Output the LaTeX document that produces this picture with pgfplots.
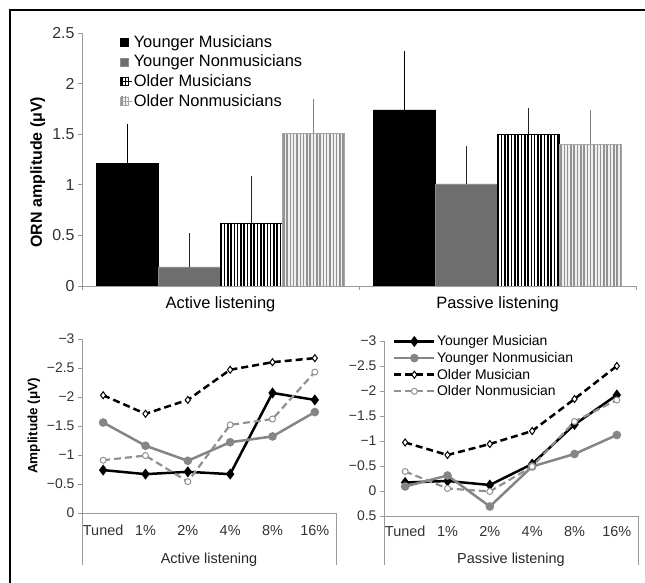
\documentclass[border=0pt]{standalone}
\usepackage{pgfplots}
\pgfplotsset{compat=1.18}
\usepackage{fontspec}
\setmainfont{Liberation Sans}
\usetikzlibrary{patterns.meta}
\definecolor{barg}{HTML}{6E6E6E}
\definecolor{lineg}{HTML}{858585}
\definecolor{axg}{HTML}{9A9A9A}
\pgfplotsset{
  sqlegend/.style={legend image code/.code={\draw[##1] (0bp,-4bp) rectangle (8bp,4bp); \path[draw=none, fill=none, pattern=none] (0bp,0bp) -- (12bp,0bp);}},
  lnlegend/.style={legend image code/.code={\draw[mark repeat=2, mark phase=2, ##1] plot coordinates {(0bp,0bp) (20bp,0bp) (40bp,0bp)};}},
}
\begin{document}
\begin{tikzpicture}
\path[use as bounding box] (0,0) rectangle (645bp,583bp);
\draw[line width=2bp] (10bp,0bp) -- (10bp,573bp) -- (645bp,573bp);
% ---------------- top bar chart ----------------
\begin{axis}[
  at={(359bp,423.5bp)}, anchor=center, scale only axis,
  width=554bp, height=253bp,
  xmin=0, xmax=2, ymin=0, ymax=2.5,
  axis x line*=bottom, axis y line*=left,
  axis line style={draw=axg, line width=0.9bp},
  tick style={draw=axg, line width=0.8bp},
  tick align=outside, major tick length=4bp,
  xtick={0,1,2}, xticklabels={,,},
  extra x ticks={0.5,1.5},
  extra x tick labels={Active listening,Passive listening},
  extra x tick style={major tick length=0pt, ticklabel style={font=\fontsize{16.5}{19}\selectfont, yshift=-7bp}},
  ytick={0,0.5,1,1.5,2,2.5},
  yticklabel style={font=\fontsize{16}{18}\selectfont, text=black!80},
  /pgf/number format/assume math mode=true,
  ylabel={ORN amplitude (μV)},
  ylabel style={font=\bfseries\fontsize{16}{18}\selectfont, at={(axis description cs:-0.08,0.45)}, anchor=center},
  ybar=0pt, bar width=62bp,
  legend style={at={(axis description cs:0.068,0.997)}, anchor=north west, draw=none, fill=none,
    font=\fontsize{16.5}{18}\selectfont, row sep=3.2bp, inner sep=0pt,
    nodes={inner sep=1.5bp}},
  legend cell align=left,
]
\addplot[fill=black, draw=black, sqlegend,
  error bars/.cd, y dir=plus, y explicit,
  error bar style={black, line width=0.8bp},
  error mark options={black, mark size=3.5bp, line width=0.8bp}]
  coordinates {(0.5,1.21) +- (0,0.36) (1.5,1.74) +- (0,0.55)};
\addlegendentry{Younger Musicians}
\addplot[fill=barg, draw=barg!80, sqlegend,
  error bars/.cd, y dir=plus, y explicit,
  error bar style={black!85, line width=0.8bp},
  error mark options={black!85, mark size=3.5bp, line width=0.8bp}]
  coordinates {(0.5,0.19) +- (0,0.30) (1.5,1.01) +- (0,0.34)};
\addlegendentry{Younger Nonmusicians}
\addplot[draw=black, preaction={fill=white},
  pattern={Lines[angle=90, distance=3.3bp, line width=1.6bp]}, pattern color=black, sqlegend,
  error bars/.cd, y dir=plus, y explicit,
  error bar style={black!85, line width=0.8bp},
  error mark options={black!85, mark size=3.5bp, line width=0.8bp}]
  coordinates {(0.5,0.62) +- (0,0.43) (1.5,1.50) +- (0,0.22)};
\addlegendentry{Older Musicians}
\addplot[draw=gray!70, preaction={fill=gray!12},
  pattern={Lines[angle=90, distance=3.3bp, line width=1.5bp]}, pattern color=gray!85, sqlegend,
  error bars/.cd, y dir=plus, y explicit,
  error bar style={gray, line width=0.8bp},
  error mark options={gray, mark size=3.5bp, line width=0.8bp}]
  coordinates {(0.5,1.51) +- (0,0.30) (1.5,1.40) +- (0,0.30)};
\addlegendentry{Older Nonmusicians}
\end{axis}
% ---------------- bottom left: active ----------------
\begin{axis}[
  at={(209bp,157bp)}, anchor=center, scale only axis,
  width=254bp, height=174bp,
  xmin=-0.5, xmax=5.5, ymin=0, ymax=3,
  y filter/.expression={-y},
  axis x line*=bottom, axis y line*=left,
  axis line style={draw=axg, line width=0.9bp},
  tick align=outside, major tick length=4bp,
  ytick={0,0.5,1,1.5,2,2.5,3},
  yticklabels={0,−0.5,−1,−1.5,−2,−2.5,−3},
  ytick style={draw=axg, line width=0.8bp},
  yticklabel style={font=\fontsize{14}{16}\selectfont, text=black!80},
  xtick={0,1,2,3,4,5},
  xticklabels={Tuned,1\%,2\%,4\%,8\%,16\%},
  xtick style={draw=none},
  xticklabel style={font=\fontsize{14.5}{16}\selectfont, text=black!80, yshift=-5bp},
  extra x ticks={-0.5,5.5}, extra x tick labels={,},
  extra x tick style={xtick style={draw=axg, line width=0.8bp}, major tick length=52bp},
  xlabel={Active listening},
  xlabel style={font=\fontsize{14.5}{16}\selectfont, text=black!85, at={(axis description cs:0.5,-0.268)}, anchor=center},
  ylabel={Amplitude (μV)},
  ylabel style={font=\bfseries\fontsize{13.5}{15}\selectfont},
]
\addplot[black, line width=2.5bp, mark=diamond*, mark size=3.5bp]
  coordinates {(0,-0.74) (1,-0.67) (2,-0.71) (3,-0.67) (4,-2.07) (5,-1.95)};
\addplot[lineg, line width=2.5bp, mark=*, mark size=3bp]
  coordinates {(0,-1.56) (1,-1.16) (2,-0.90) (3,-1.22) (4,-1.32) (5,-1.74)};
\addplot[black, line width=2.5bp, dash pattern=on 7bp off 4bp, mark=diamond*, mark size=3.5bp, mark options={solid, fill=white, line width=1bp}]
  coordinates {(0,-2.03) (1,-1.71) (2,-1.95) (3,-2.47) (4,-2.60) (5,-2.67)};
\addplot[lineg!90, line width=2.2bp, dash pattern=on 7bp off 4bp, mark=*, mark size=3bp, mark options={solid, fill=white, line width=1bp}]
  coordinates {(0,-0.91) (1,-0.99) (2,-0.54) (3,-1.52) (4,-1.62) (5,-2.43)};
\end{axis}
% ---------------- bottom right: passive ----------------
\begin{axis}[
  at={(511bp,154.5bp)}, anchor=center, scale only axis,
  width=254bp, height=175bp,
  xmin=-0.5, xmax=5.5, ymin=-0.5, ymax=3,
  y filter/.expression={-y},
  axis x line*=bottom, axis y line*=left,
  axis line style={draw=axg, line width=0.9bp},
  tick align=outside, major tick length=4bp,
  ytick={-0.5,0,0.5,1,1.5,2,2.5,3},
  yticklabels={0.5,0,−0.5,−1,−1.5,−2,−2.5,−3},
  ytick style={draw=axg, line width=0.8bp},
  yticklabel style={font=\fontsize{14}{16}\selectfont, text=black!80},
  xtick={0,1,2,3,4,5},
  xticklabels={Tuned,1\%,2\%,4\%,8\%,16\%},
  xtick style={draw=none},
  xticklabel style={font=\fontsize{14.5}{16}\selectfont, text=black!80, yshift=-3bp},
  extra x ticks={-0.5,5.5}, extra x tick labels={,},
  extra x tick style={xtick style={draw=axg, line width=0.8bp}, major tick length=49bp},
  xlabel={Passive listening},
  xlabel style={font=\fontsize{14.5}{16}\selectfont, text=black!85, at={(axis description cs:0.5,-0.25)}, anchor=center},
  legend style={at={(axis description cs:0.035,1.04)}, anchor=north west, draw=none, fill=none,
    font=\fontsize{14}{15}\selectfont, row sep=2bp, inner sep=0pt, nodes={inner sep=1.5bp}},
  legend cell align=left,
]
\addplot[black, line width=2.5bp, mark=diamond*, mark size=3.5bp, lnlegend]
  coordinates {(0,-0.17) (1,-0.20) (2,-0.12) (3,-0.54) (4,-1.33) (5,-1.92)};
\addlegendentry{Younger Musician}
\addplot[lineg, line width=2.5bp, mark=*, mark size=3bp, lnlegend]
  coordinates {(0,-0.09) (1,-0.31) (2,0.31) (3,-0.49) (4,-0.74) (5,-1.12)};
\addlegendentry{Younger Nonmusician}
\addplot[black, line width=2.5bp, dash pattern=on 7bp off 4bp, mark=diamond*, mark size=3.5bp, mark options={solid, fill=white, line width=1bp}, lnlegend]
  coordinates {(0,-0.97) (1,-0.72) (2,-0.94) (3,-1.20) (4,-1.84) (5,-2.50)};
\addlegendentry{Older Musician}
\addplot[lineg!90, line width=2.2bp, dash pattern=on 7bp off 4bp, mark=*, mark size=3bp, mark options={solid, fill=white, line width=1bp}, lnlegend]
  coordinates {(0,-0.39) (1,-0.05) (2,0.01) (3,-0.49) (4,-1.39) (5,-1.82)};
\addlegendentry{Older Nonmusician}
\end{axis}
\end{tikzpicture}
\end{document}
